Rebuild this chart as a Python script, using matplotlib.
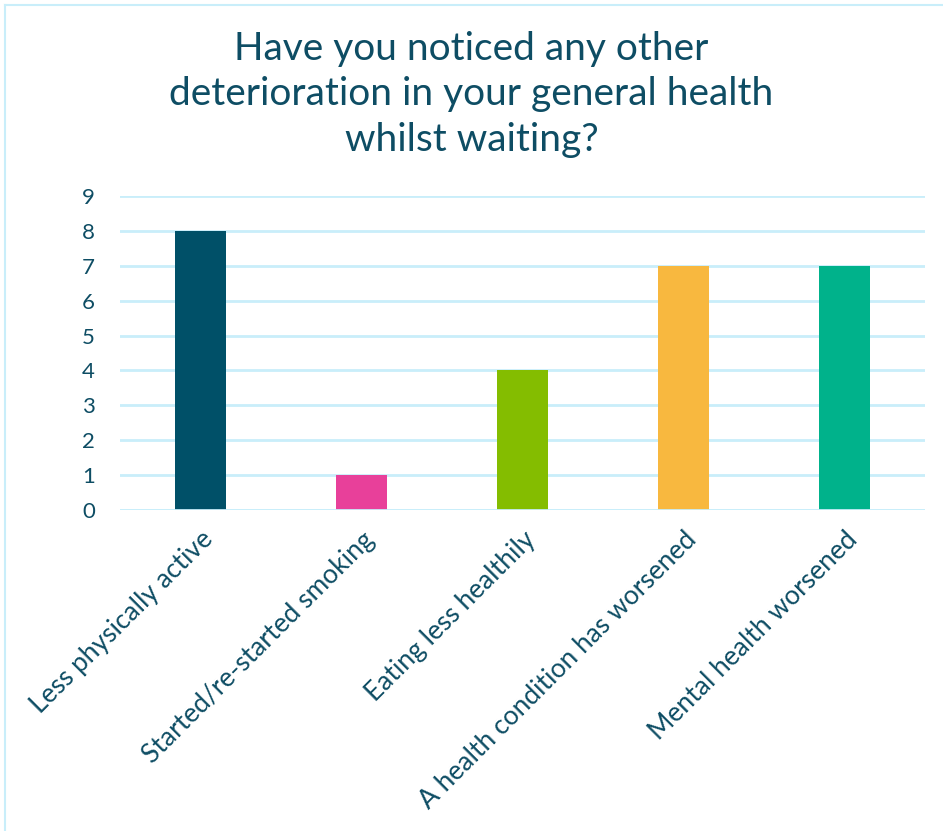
import matplotlib.pyplot as plt
from matplotlib.lines import Line2D

# data
categories = ["Less physically active", "Started/re-started smoking",
              "Eating less healthily", "A health condition has worsened",
              "Mental health worsened"]
counts = [8, 1, 4, 7, 7]
bar_colors = ["#005068", "#e8409a", "#84bd00", "#f8b83f", "#00b28b"]
yticks = list(range(0, 10))

text_color = "#0e4d64"
grid_color = "#c9eefa"

plt.rcParams['font.family'] = ['Lato', 'DejaVu Sans']

fig = plt.figure(figsize=(9.43, 8.31), dpi=100)
ax = fig.add_axes([0.1273, 0.3863, 0.8537, 0.3778])

x = range(len(categories))
ax.bar(x, counts, width=0.32, color=bar_colors, zorder=3)

ax.set_xlim(-0.5, len(categories) - 0.5)
ax.set_ylim(0, 9)
ax.set_yticks(yticks)
ax.set_yticklabels([str(t) for t in yticks], fontsize=16, color=text_color)
ax.set_xticks(list(x))
ax.set_xticklabels(categories, rotation=45, ha='right', rotation_mode='anchor',
                   fontsize=19, color=text_color)
ax.tick_params(axis='y', length=0, pad=18)
ax.tick_params(axis='x', length=0, pad=12)

ax.grid(axis='y', color=grid_color, linewidth=2, zorder=0)
ax.set_axisbelow(True)
for s in ax.spines.values():
    s.set_visible(False)
ax.axhline(0, color=grid_color, linewidth=2, zorder=4)

fig.suptitle("Have you noticed any other\ndeterioration in your general health\nwhilst waiting?",
             y=0.963, fontsize=28, color=text_color, linespacing=1.33)

# light frame on top and left edges
fig.add_artist(Line2D([5/943, 5/943], [0, 1 - 5/831], transform=fig.transFigure,
                      color=grid_color, linewidth=1.5))
fig.add_artist(Line2D([5/943, 1], [1 - 5/831, 1 - 5/831], transform=fig.transFigure,
                      color=grid_color, linewidth=1.5))

plt.savefig("out.png", dpi=100)
